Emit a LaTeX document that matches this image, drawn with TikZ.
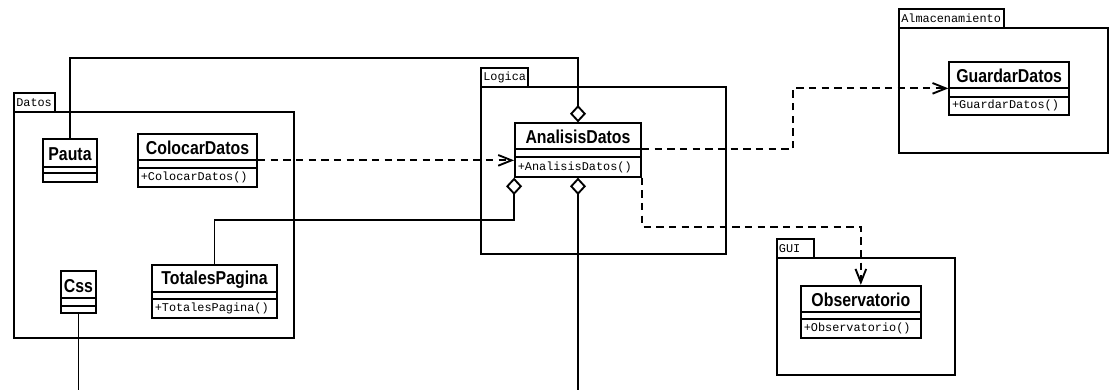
\documentclass[tikz,border=0pt]{standalone}
\usepackage{fontspec}
\setmainfont{Liberation Sans}
\newfontfamily\clsfont[FakeStretch=0.85]{Liberation Sans}
\newfontfamily\umlmono{Liberation Mono}
\usetikzlibrary{arrows.meta,fit,calc}
\tikzset{
  ln/.style={line width=1.4pt},
  box/.style={ln, draw, fill=white, inner sep=0pt},
  title/.style={font=\clsfont\bfseries\fontsize{14}{16}\selectfont, inner sep=0pt},
  meth/.style={font=\umlmono\fontsize{8.9}{10}\selectfont, inner sep=0pt, anchor=west},
  tablbl/.style={font=\umlmono\fontsize{8.9}{10}\selectfont, inner sep=0pt, anchor=west},
  dep/.style={ln, dash pattern=on 5.5pt off 4pt, -{Straight Barb[length=10pt,width=8pt]}},
  agg/.style={ln, {Diamond[open,length=13pt,width=12pt]}-},
  plain/.style={ln}
}
% name x1 y1 x2 y2 ynameline yattrline title method
\newcommand{\umlcls}[9]{%
  \node[box, fit={(#2,#3) (#4,#5)}] (#1) {};
  \draw[ln] (#2,#6) -- (#4,#6);
  \draw[ln] (#2,#7) -- (#4,#7);
  \node[title] (#1-t) at ({(#2+#4)/2},{(#3+#6)/2+1}) {#8};
  \node[meth] (#1-m) at ({#2+2.5},{(#7+#5)/2}) {#9};
}
% name tabx2 taby1 x1 y1 x2 y2 label
\newcommand{\umlpkg}[8]{%
  \node[box, fit={(#4,#3) (#2,#5)}] (#1-tab) {};
  \node[box, fit={(#4,#5) (#6,#7)}] (#1) {};
  \node[tablbl] (#1-l) at ({#4+2},{(#3+#5)/2}) {#8};
}
\begin{document}
\begin{tikzpicture}[x=0.75pt,y=-0.75pt]
\useasboundingbox (0,0) rectangle (1115,390);
% packages
\umlpkg{datos}{55}{92.7}{14}{111.7}{294}{338}{Datos}
\umlpkg{logica}{528.3}{68.3}{481}{87.3}{726}{254.3}{Logica}
\umlpkg{alm}{1004}{9}{899}{28.3}{1108.3}{152.7}{Almacenamiento}
\umlpkg{gui}{814.3}{239}{776.7}{258.3}{955}{375}{GUI}
% helper coordinates
\coordinate (top) at (0,57.7);
\coordinate (mid) at (0,220);
\coordinate (bot) at (0,390);
\coordinate (obsrow) at (0,226.7);
\coordinate (gdx) at (793,0);
% classes
\umlcls{pauta}{43}{139}{97}{181.7}{166.7}{173.3}{Pauta}{}
\umlcls{colocar}{138}{134}{257}{186.7}{160}{167.7}{ColocarDatos}{+ColocarDatos()}
\umlcls{totales}{152}{265}{277}{318.3}{291.7}{299}{TotalesPagina}{+TotalesPagina()}
\umlcls{css}{61}{271}{96}{313.3}{298.3}{306}{Css}{}
\umlcls{ana}{515}{123.3}{641}{176.7}{149.3}{157.3}{AnalisisDatos}{+AnalisisDatos()}
\umlcls{guardar}{949.3}{61.7}{1069}{115}{88.3}{96.7}{GuardarDatos}{+GuardarDatos()}
\umlcls{obs}{801}{285.7}{920.7}{338.3}{311.7}{319.3}{Observatorio}{+Observatorio()}
\coordinate (anaN) at ($(ana.west |- 0,149.3)!1!(ana.east |- 0,149.3)$);
% connectors
\draw[agg] (ana.north) -- (ana.north |- top) -| (pauta.north);
\draw[agg] (ana.south west) -- (ana.south west |- mid) -| (totales.north);
\draw[agg] (ana.south) -- (ana.south |- bot);
\draw[plain] (css.south) -- (css.south |- bot);
\draw[dep] (colocar.east) -- (ana.west |- colocar.east);
\draw[dep] (anaN) -- (anaN -| gdx) |- (guardar.west);
\draw[dep] (ana.south east) -- (ana.south east |- obsrow) -| (obs.north);
\end{tikzpicture}
\end{document}
